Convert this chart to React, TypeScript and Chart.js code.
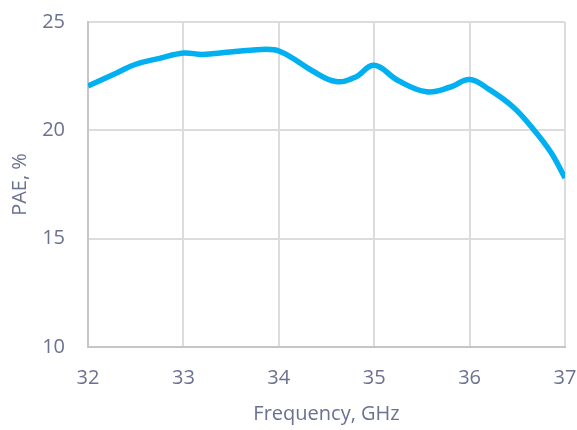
import React, { useEffect, useRef } from "react";
import { Chart, registerables } from "chart.js";

Chart.register(...registerables);

const frequencies = [32.0, 32.3, 32.5, 32.75, 33.0, 33.2, 33.45, 33.7, 33.95, 34.1, 34.35, 34.6, 34.8, 35.0, 35.25, 35.55, 35.8, 36.0, 36.2, 36.45, 36.65, 36.85, 37.0];
const pae = [22.05, 22.65, 23.05, 23.32, 23.57, 23.5, 23.6, 23.7, 23.72, 23.45, 22.75, 22.25, 22.45, 23.0, 22.3, 21.78, 22.0, 22.35, 21.9, 21.1, 20.15, 19.0, 17.8];
const xTicks = [32, 33, 34, 35, 36, 37];
const yTicks = [10, 15, 20, 25];

const TEXT = "#6b7191";
const FONT = "'Open Sans', sans-serif";

export default function App() {
  const ref = useRef<HTMLCanvasElement | null>(null);
  useEffect(() => {
    if (!ref.current) return;
    const chart = new Chart(ref.current, {
      type: "line",
      data: {
        datasets: [
          {
            data: frequencies.map((f, i) => ({ x: f, y: pae[i] })),
            borderColor: "#00b0f0",
            borderWidth: 5.5,
            pointRadius: 0,
            tension: 0.4,
            fill: false,
          },
        ],
      },
      options: {
        animation: false,
        responsive: false,
        maintainAspectRatio: false,
        layout: { padding: 0 },
        plugins: { legend: { display: false }, tooltip: { enabled: false } },
        scales: {
          x: {
            type: "linear",
            min: 32,
            max: 37,
            afterBuildTicks: (s: any) => {
              s.ticks = xTicks.map((v) => ({ value: v }));
            },
            afterFit: (s: any) => {
              s.height = 83;
              s.paddingRight = 12;
              s.paddingLeft = 0;
            },
            grid: { color: "#dcdcdc", lineWidth: 2, drawTicks: false },
            border: { color: "#c6c6c6", width: 2 },
            ticks: { color: TEXT, font: { family: FONT, size: 20 }, padding: 19 },
            title: {
              display: true,
              text: "Frequency, GHz",
              color: TEXT,
              font: { family: FONT, size: 20 },
              padding: { top: 0, bottom: 4 },
            },
          },
          y: {
            min: 10,
            max: 25,
            afterBuildTicks: (s: any) => {
              s.ticks = yTicks.map((v) => ({ value: v }));
            },
            afterFit: (s: any) => {
              s.width = 88;
              s.paddingTop = 22;
              s.paddingBottom = 0;
            },
            grid: { color: "#dcdcdc", lineWidth: 2, drawTicks: false },
            border: { color: "#c6c6c6", width: 2 },
            ticks: { color: TEXT, font: { family: FONT, size: 20 }, padding: 23 },
            title: {
              display: true,
              text: "PAE, %",
              color: TEXT,
              font: { family: FONT, size: 20 },
              padding: { top: 8, bottom: 0 },
            },
          },
        },
      },
    });
    return () => chart.destroy();
  }, []);
  return (
    <div style={{ position: "absolute", left: 0, top: 0, width: 577, height: 430, background: "#fff" }}>
      <canvas ref={ref} width={577} height={430} style={{ width: 577, height: 430 }} />
    </div>
  );
}
